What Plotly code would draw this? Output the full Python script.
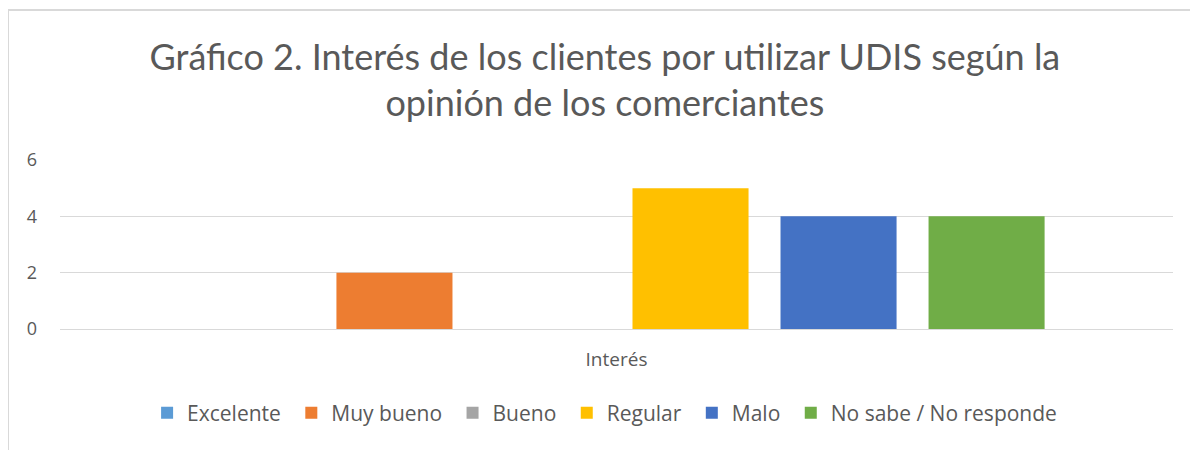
import plotly.graph_objects as go

categories = ["Interés"]
series_names = ["Excelente", "Muy bueno", "Bueno", "Regular", "Malo", "No sabe / No responde"]
series_values = [0, 2, 0, 5, 4, 4]
series_colors = ["#5B9BD5", "#ED7D31", "#A5A5A5", "#FFC000", "#4472C4", "#70AD47"]
y_ticks = [0, 2, 4, 6]

title_text = "Gráfico 2. Interés de los clientes por utilizar UDIS según la<br>opinión de los comerciantes"

fig = go.Figure()
for name, val, col in zip(series_names, series_values, series_colors):
    fig.add_trace(go.Bar(x=categories, y=[val], name=name + "\u00a0",
                         marker=dict(color=col, line=dict(width=0))))

grey = "#595959"
fig.update_layout(
    width=1198, height=450,
    paper_bgcolor="white", plot_bgcolor="white",
    margin=dict(l=52, r=33, t=152, b=129),
    barmode="group", bargap=0.202, bargroupgap=0.216,
    title=dict(text=title_text, x=0.4896, xanchor="center", xref="paper", y=0.863, yanchor="middle",
               font=dict(family="Lato", size=36, color=grey)),
    font=dict(family="Open Sans", color=grey, size=18),
    showlegend=True,
    legend=dict(orientation="h", x=0.492, xanchor="center", y=-0.497, yanchor="middle",
                font=dict(family="Open Sans", size=21, color=grey), traceorder="normal"),
    xaxis=dict(showgrid=False, showline=False, ticks="", tickfont=dict(family="Open Sans", size=19, color=grey),
               ticklabelstandoff=17),
    yaxis=dict(range=[0, 6], tickvals=y_ticks, showgrid=True, gridcolor="#D9D9D9", gridwidth=1,
               zeroline=True, zerolinecolor="#D9D9D9", zerolinewidth=1, showline=False, ticks="",
               tickfont=dict(family="Open Sans", size=18, color=grey), ticklabelstandoff=22),
    shapes=[dict(type="rect", xref="paper", yref="paper", x0=-0.0467, x1=1.05, y0=-0.76, y1=1.888,
                 line=dict(color="#D9D9D9", width=2), fillcolor="rgba(0,0,0,0)", layer="below")],
)

fig.write_html("out.html")
